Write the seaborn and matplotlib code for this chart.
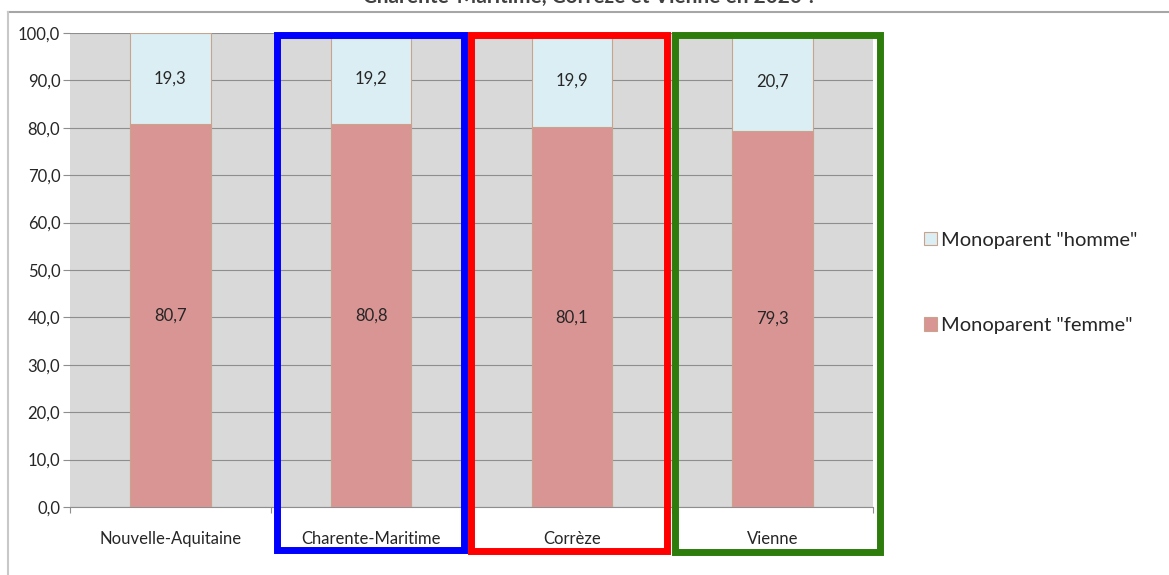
import matplotlib
matplotlib.use("Agg")
import matplotlib.pyplot as plt
from matplotlib.patches import Rectangle
from matplotlib.ticker import FuncFormatter, FixedLocator
import seaborn as sns
import pandas as pd

# Data: share of single-parent families by sex of the parent (%)
categories = ["Nouvelle-Aquitaine", "Charente-Maritime", "Corrèze", "Vienne"]
femme = [80.7, 80.8, 80.1, 79.3]
homme = [19.3, 19.2, 19.9, 20.7]
label_femme = 'Monoparent "femme"'
label_homme = 'Monoparent "homme"'
title = "Charente-Maritime, Corrèze et Vienne en 2020 ?"

df = pd.DataFrame({"zone": categories, "femme": femme, "homme": homme})
df["total"] = df["femme"] + df["homme"]

FONT = ["Lato", "DejaVu Sans"]
plt.rcParams["font.family"] = FONT

C_FEMME = "#d99594"
C_HOMME = "#dbeef3"
C_EDGE = "#c9a48c"
C_BG = "#d9d9d9"
C_GRID = "#8e8e8e"
C_TEXT = "#262626"

W, H = 1169, 575
fig = plt.figure(figsize=(W / 100, H / 100), dpi=100)
ax = fig.add_axes([70 / W, 1 - 507 / H, 803 / W, 474 / H])
ax.set_facecolor(C_BG)

# stacked bars: total in "homme" colour, then "femme" drawn over it
sns.barplot(data=df, x="zone", y="total", color=C_HOMME, width=0.4,
            edgecolor=C_EDGE, linewidth=0.8, saturation=1, ax=ax, zorder=2)
sns.barplot(data=df, x="zone", y="femme", color=C_FEMME, width=0.4,
            edgecolor=C_EDGE, linewidth=0.8, saturation=1, ax=ax, zorder=3)

fmt = lambda v: f"{v:.1f}".replace(".", ",")
for i, (f, h) in enumerate(zip(femme, homme)):
    ax.text(i, f / 2, fmt(f), ha="center", va="center", fontsize=12,
            color=C_TEXT, zorder=4)
    ax.text(i, f + h / 2, fmt(h), ha="center", va="center", fontsize=12,
            color=C_TEXT, zorder=4)

ax.set_xlim(-0.5, len(categories) - 0.5)
ax.set_ylim(0, 100)
ax.set_yticks(range(0, 101, 10))
ax.yaxis.set_major_formatter(FuncFormatter(lambda v, p: fmt(v)))
ax.yaxis.grid(True, color=C_GRID, linewidth=0.8)
ax.set_axisbelow(True)
ax.set_xlabel("")
ax.set_ylabel("")

ax.tick_params(axis="y", length=5, color=C_GRID, width=0.8, labelsize=12,
               labelcolor=C_TEXT, pad=2)
ax.tick_params(axis="x", which="major", length=0, labelsize=12,
               labelcolor=C_TEXT, pad=17)
ax.xaxis.set_minor_locator(FixedLocator([i - 0.5 for i in range(len(categories) + 1)]))
ax.tick_params(axis="x", which="minor", length=4, color=C_GRID, width=0.8)

for s in ["top", "right", "left"]:
    ax.spines[s].set_visible(False)
ax.spines["bottom"].set_color(C_GRID)
ax.spines["bottom"].set_linewidth(0.8)

# legend on the right
handles = [Rectangle((0, 0), 1, 1, facecolor=C_HOMME, edgecolor=C_EDGE, linewidth=0.8),
           Rectangle((0, 0), 1, 1, facecolor=C_FEMME, edgecolor=C_EDGE, linewidth=0.8)]
fig.legend(handles, [label_homme, label_femme], loc="center left",
           bbox_to_anchor=(906 / W, 1 - 283 / H), frameon=False,
           fontsize=14.5, handlelength=0.65, handleheight=0.65,
           handletextpad=0.2, labelspacing=3.4, labelcolor=C_TEXT)

# outer frame of the chart area and title above it
fig.add_artist(plt.Line2D([8 / W, 1], [1 - 12 / H, 1 - 12 / H],
                          transform=fig.transFigure, color="#a6a6a6", linewidth=1.5))
fig.add_artist(plt.Line2D([8 / W, 8 / W], [0, 1 - 12 / H],
                          transform=fig.transFigure, color="#c8c8c8", linewidth=1.5))
fig.text(590 / W, 1 - 3 / H, title, ha="center", va="baseline",
         fontsize=15, fontweight="bold", color="#404040")

# highlight boxes around the departments
boxes = [(276.5, 34.5, 463.5, 550, "#0000ff"),
         (470.5, 34.5, 667, 551, "#ff0000"),
         (675, 34.5, 880, 552, "#2e7d0c")]
for x0, y0, x1, y1, c in boxes:
    fig.add_artist(Rectangle((x0 / W, 1 - y1 / H), (x1 - x0) / W, (y1 - y0) / H,
                             transform=fig.transFigure, fill=False,
                             edgecolor=c, linewidth=5, joinstyle="miter", zorder=10))

fig.savefig("out.png", dpi=100, facecolor="white")
